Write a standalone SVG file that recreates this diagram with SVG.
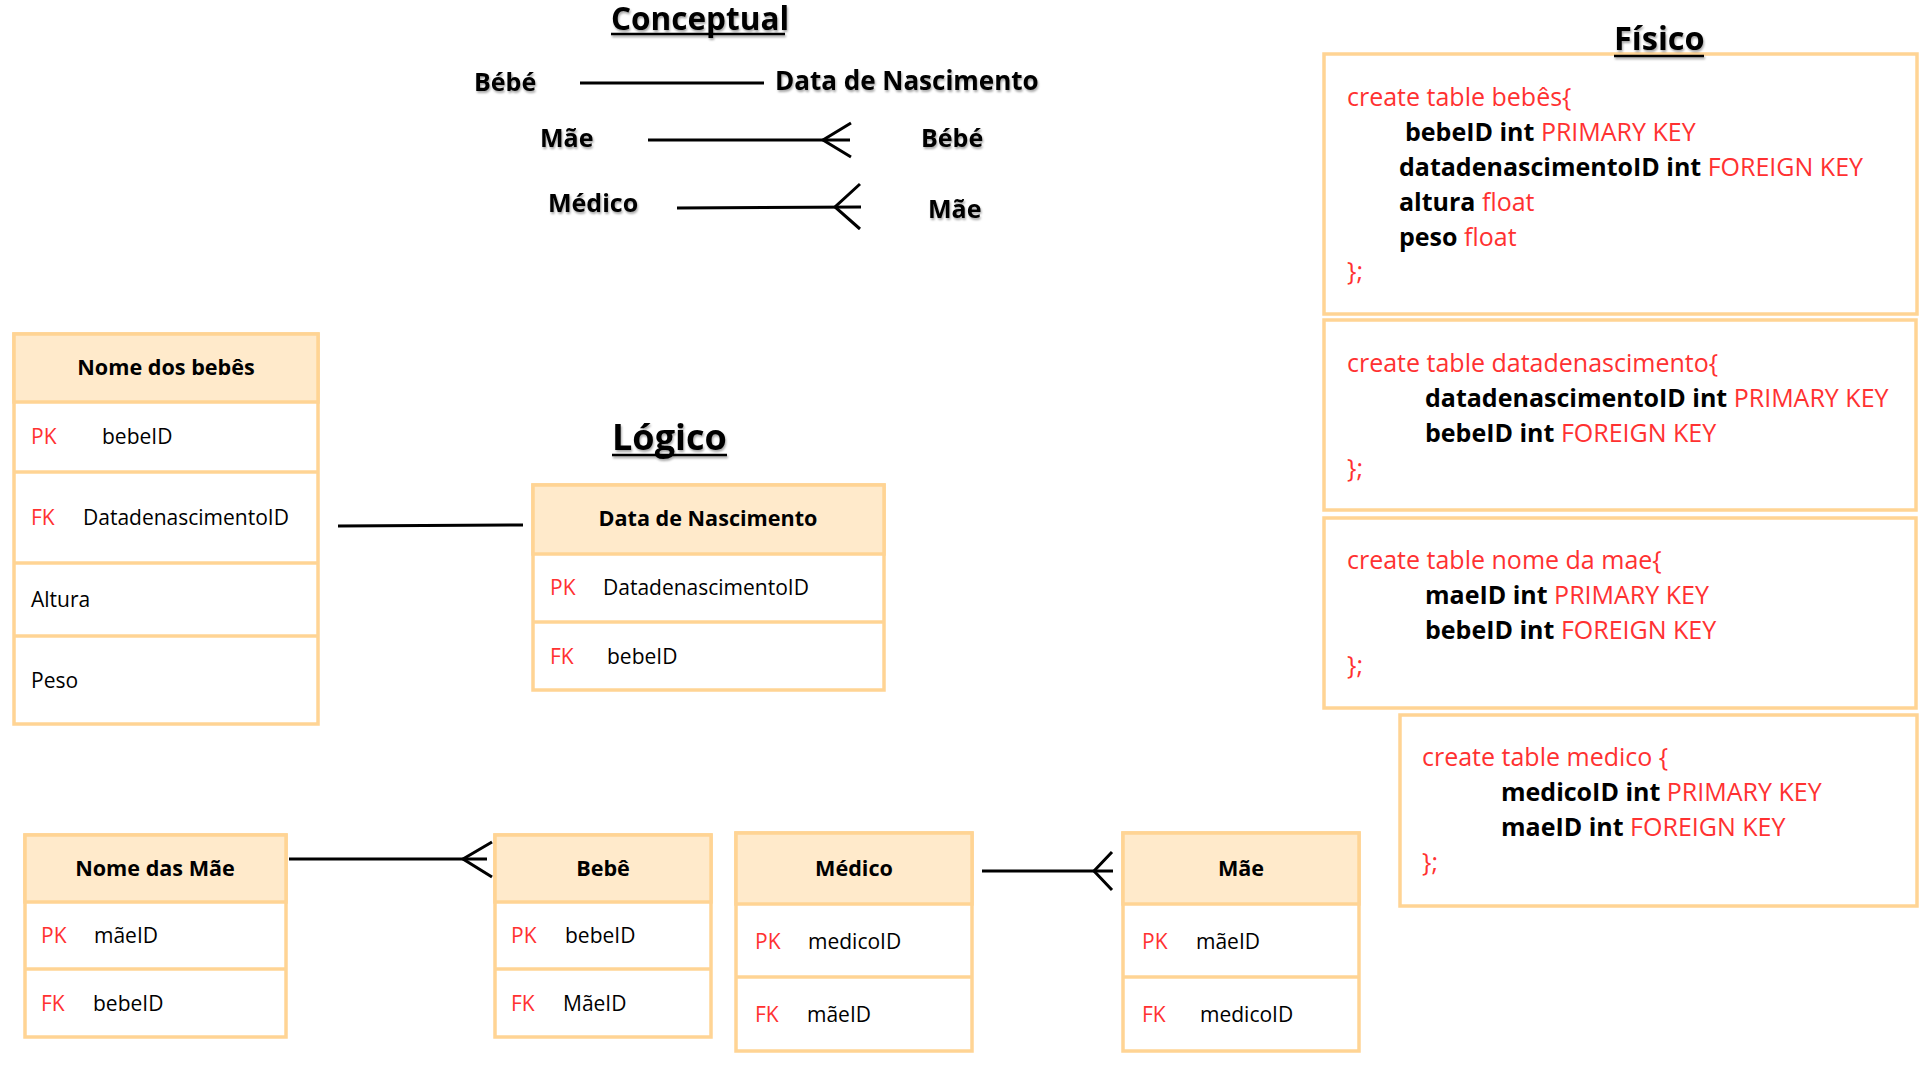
<svg xmlns="http://www.w3.org/2000/svg" width="1920" height="1080" viewBox="0 0 1920 1080">
<defs>
<filter id="sh" x="-10%" y="-30%" width="120%" height="160%">
<feDropShadow dx="1" dy="2" stdDeviation="1.2" flood-color="#000" flood-opacity="0.35"/>
</filter>
<style>
text{font-family:"Open Sans","Noto Sans",sans-serif;}
.title{font-size:32.5px;font-weight:700;fill:#000;}
.ul{stroke:#000;stroke-width:2.5;}
.cl{font-size:25px;font-weight:700;fill:#000;}
.box{fill:#fff;stroke:#FFD494;stroke-width:3.5;}
.hd{fill:#FFEACB;stroke:#FFD494;stroke-width:3.5;}
.row{fill:#fff;stroke:#FFD494;stroke-width:3.5;}
.ht{font-size:21.6px;font-weight:700;fill:#000;text-anchor:middle;}
.k{font-size:21px;fill:#FF3131;}
.f{font-size:21px;fill:#000;}
.code{font-size:25px;}
.r{fill:#FF3131;font-weight:400;}
.b{fill:#000;font-weight:700;}
.ln{stroke:#000;stroke-width:3;fill:none;}
</style>
</defs>
<rect width="1920" height="1080" fill="#fff"/>

<!-- Titles -->
<g id="title-conceptual" filter="url(#sh)">
<text class="title" x="611" y="30" style="font-size:31.5px">Conceptual</text>
<line class="ul" x1="611" y1="34" x2="785" y2="34"/>
</g>
<g id="title-logico" filter="url(#sh)">
<text class="title" x="612" y="450" style="font-size:36px">Lógico</text>
<line class="ul" x1="612" y1="455" x2="727" y2="455"/>
</g>

<!-- Conceptual labels -->
<g id="conceptual" filter="url(#sh)">
<text class="cl" x="474" y="91">Bébé</text>
<text class="cl" x="775" y="90" style="font-size:26px">Data de Nascimento</text>
<text class="cl" x="540" y="147">Mãe</text>
<text class="cl" x="921" y="147">Bébé</text>
<text class="cl" x="548" y="212">Médico</text>
<text class="cl" x="928" y="218">Mãe</text>
</g>

<!-- Logical tables -->
<g id="t-nome-bebes">
<rect class="row" x="14" y="334" width="304" height="390"/>
<rect class="hd" x="14" y="334" width="304" height="68"/>
<line class="row" x1="14" y1="472" x2="318" y2="472"/>
<line class="row" x1="14" y1="563" x2="318" y2="563"/>
<line class="row" x1="14" y1="636" x2="318" y2="636"/>
<text class="ht" x="166" y="375">Nome dos bebês</text>
<text class="k" x="31" y="444">PK</text><text class="f" x="102" y="444">bebeID</text>
<text class="k" x="31" y="525">FK</text><text class="f" x="83" y="525">DatadenascimentoID</text>
<text class="f" x="31" y="607">Altura</text>
<text class="f" x="31" y="688">Peso</text>
</g>

<g id="t-data-nascimento">
<rect class="row" x="533" y="485" width="351" height="205"/>
<rect class="hd" x="533" y="485" width="351" height="69"/>
<line class="row" x1="533" y1="622" x2="884" y2="622"/>
<text class="ht" x="708" y="526">Data de Nascimento</text>
<text class="k" x="550" y="595">PK</text><text class="f" x="603" y="595">DatadenascimentoID</text>
<text class="k" x="550" y="664">FK</text><text class="f" x="607" y="664">bebeID</text>
</g>

<g id="t-nome-mae">
<rect class="row" x="25" y="835" width="261" height="202"/>
<rect class="hd" x="25" y="835" width="261" height="67"/>
<line class="row" x1="25" y1="969" x2="286" y2="969"/>
<text class="ht" x="155" y="876">Nome das Mãe</text>
<text class="k" x="41" y="943">PK</text><text class="f" x="94" y="943">mãeID</text>
<text class="k" x="41" y="1011">FK</text><text class="f" x="93" y="1011">bebeID</text>
</g>

<g id="t-bebe">
<rect class="row" x="495" y="835" width="216" height="202"/>
<rect class="hd" x="495" y="835" width="216" height="67"/>
<line class="row" x1="495" y1="969" x2="711" y2="969"/>
<text class="ht" x="603" y="876">Bebê</text>
<text class="k" x="511" y="943">PK</text><text class="f" x="565" y="943">bebeID</text>
<text class="k" x="511" y="1011">FK</text><text class="f" x="563" y="1011">MãeID</text>
</g>

<g id="t-medico">
<rect class="row" x="736" y="833" width="236" height="218"/>
<rect class="hd" x="736" y="833" width="236" height="71"/>
<line class="row" x1="736" y1="977" x2="972" y2="977"/>
<text class="ht" x="854" y="876">Médico</text>
<text class="k" x="755" y="949">PK</text><text class="f" x="808" y="949">medicoID</text>
<text class="k" x="755" y="1022">FK</text><text class="f" x="807" y="1022">mãeID</text>
</g>

<g id="t-mae">
<rect class="row" x="1123" y="833" width="236" height="218"/>
<rect class="hd" x="1123" y="833" width="236" height="71"/>
<line class="row" x1="1123" y1="977" x2="1359" y2="977"/>
<text class="ht" x="1241" y="876">Mãe</text>
<text class="k" x="1142" y="949">PK</text><text class="f" x="1196" y="949">mãeID</text>
<text class="k" x="1142" y="1022">FK</text><text class="f" x="1200" y="1022">medicoID</text>
</g>

<!-- Physical boxes -->
<g id="f-bebes">
<rect class="box" x="1324" y="54" width="593" height="260"/>
<text class="code" x="1347" y="106"><tspan class="r">create table bebês{</tspan></text>
<text class="code" x="1405" y="141"><tspan class="b">bebeID int</tspan> <tspan class="r">PRIMARY KEY</tspan></text>
<text class="code" x="1399" y="176"><tspan class="b">datadenascimentoID int</tspan> <tspan class="r">FOREIGN KEY</tspan></text>
<text class="code" x="1399" y="211"><tspan class="b">altura</tspan> <tspan class="r">float</tspan></text>
<text class="code" x="1399" y="246"><tspan class="b">peso</tspan> <tspan class="r">float</tspan></text>
<text class="code" x="1347" y="280"><tspan class="r">};</tspan></text>
</g>
<g id="title-fisico" filter="url(#sh)">
<text class="title" x="1614" y="50">Físico</text>
<line class="ul" x1="1614" y1="56" x2="1704" y2="56"/>
</g>

<g id="f-datadenascimento">
<rect class="box" x="1324" y="320" width="592" height="190"/>
<text class="code" x="1347" y="372"><tspan class="r">create table datadenascimento{</tspan></text>
<text class="code" x="1425" y="407"><tspan class="b">datadenascimentoID int</tspan> <tspan class="r">PRIMARY KEY</tspan></text>
<text class="code" x="1425" y="442"><tspan class="b">bebeID int</tspan> <tspan class="r">FOREIGN KEY</tspan></text>
<text class="code" x="1347" y="477"><tspan class="r">};</tspan></text>
</g>

<g id="f-mae">
<rect class="box" x="1324" y="518" width="592" height="190"/>
<text class="code" x="1347" y="569"><tspan class="r">create table nome da mae{</tspan></text>
<text class="code" x="1425" y="604"><tspan class="b">maeID int</tspan> <tspan class="r">PRIMARY KEY</tspan></text>
<text class="code" x="1425" y="639"><tspan class="b">bebeID int</tspan> <tspan class="r">FOREIGN KEY</tspan></text>
<text class="code" x="1347" y="674"><tspan class="r">};</tspan></text>
</g>

<g id="f-medico">
<rect class="box" x="1400" y="715" width="517" height="191"/>
<text class="code" x="1422" y="766"><tspan class="r">create table medico {</tspan></text>
<text class="code" x="1501" y="801"><tspan class="b">medicoID int</tspan> <tspan class="r">PRIMARY KEY</tspan></text>
<text class="code" x="1501" y="836"><tspan class="b">maeID int</tspan> <tspan class="r">FOREIGN KEY</tspan></text>
<text class="code" x="1422" y="871"><tspan class="r">};</tspan></text>
</g>

<!-- Connectors -->
<g id="connectors">
<line class="ln" x1="580" y1="83" x2="764" y2="83"/>
<line class="ln" x1="648" y1="140" x2="850" y2="140"/>
<polyline class="ln" points="851,123 823,140 851,157"/>
<line class="ln" x1="677" y1="208" x2="861" y2="207"/>
<polyline class="ln" points="860,184 835,207 860,229"/>
<line class="ln" x1="338" y1="526" x2="523" y2="525"/>
<line class="ln" x1="289" y1="859" x2="487" y2="859"/>
<polyline class="ln" points="492,842 463,859 492,877"/>
<line class="ln" x1="982" y1="871" x2="1113" y2="871"/>
<polyline class="ln" points="1112,852 1094,871 1112,890"/>
</g>
</svg>
